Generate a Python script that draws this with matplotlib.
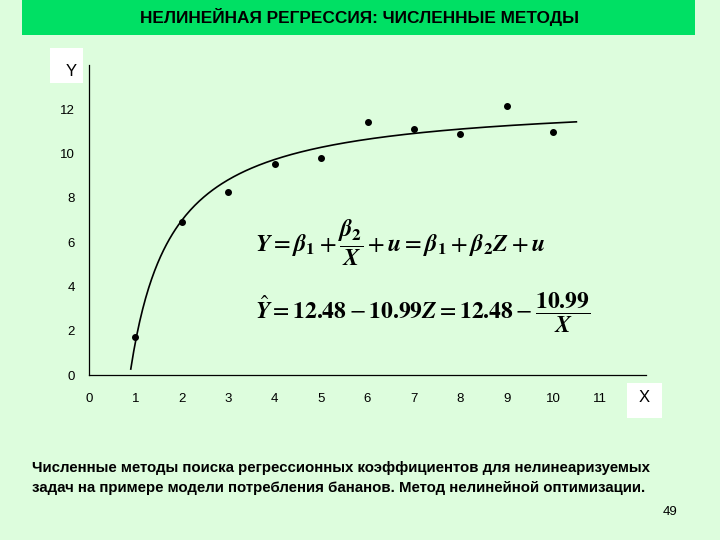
import numpy as np
import matplotlib
matplotlib.use("Agg")
import matplotlib.pyplot as plt
from matplotlib.patches import Rectangle

plt.rcParams["font.family"] = ["Liberation Sans", "DejaVu Sans"]
plt.rcParams["mathtext.fontset"] = "stix"

x_obs = [1, 2, 3, 4, 5, 6, 7, 8, 9, 10]
y_obs = [1.72, 6.89, 8.25, 9.54, 9.82, 11.44, 11.12, 10.89, 12.16, 10.96]

# fitted model Y = b1 - b2 / X
b1, b2 = 12.48, 10.99
x_fit_range = (0.9, 10.5)

x_ticks = list(range(0, 12))
y_ticks = [0, 2, 4, 6, 8, 10, 12]

title = "НЕЛИНЕЙНАЯ РЕГРЕССИЯ: ЧИСЛЕННЫЕ МЕТОДЫ"
caption = ("Численные методы поиска регрессионных коэффициентов для нелинеаризуемых\n"
           "задач на примере модели потребления бананов. Метод нелинейной оптимизации.")
page_no = "49"

bg = "#ddfddd"
bar = "#00e064"

fig = plt.figure(figsize=(7.2, 5.4), dpi=100, facecolor=bg)

# title bar
fig.patches.append(Rectangle((22 / 720, 1 - 35 / 540), (695 - 22) / 720, 35 / 540,
                             transform=fig.transFigure, facecolor=bar,
                             edgecolor="none", zorder=0))
fig.text(359 / 720, 1 - 17 / 540, title, ha="center", va="center",
         fontsize=12.4, fontweight="bold")

ax = fig.add_axes([89 / 720, 1 - 375 / 540, (646 - 89) / 720, (375 - 65) / 540])
ax.set_facecolor(bg)
ax.set_xlim(0, 12)
ax.set_ylim(0, 14)
for s in ("top", "right"):
    ax.spines[s].set_visible(False)
ax.spines["left"].set_linewidth(0.9)
ax.spines["bottom"].set_linewidth(0.9)

ax.set_xticks(x_ticks)
ax.set_xticklabels([str(t) for t in x_ticks], fontsize=9.5)
ax.set_xticks([4, 8], minor=True)
ax.tick_params(axis="x", which="major", length=0, pad=13)
ax.tick_params(axis="x", which="minor", length=4, direction="out", width=0.9)
ax.set_yticks(y_ticks)
ax.set_yticklabels([str(t) for t in y_ticks], fontsize=9.5)
ax.tick_params(axis="y", length=0, pad=10)

xf = np.linspace(*x_fit_range, 300)
ax.plot(xf, b1 - b2 / xf, color="black", lw=1.2, clip_on=False)
ax.plot(x_obs, y_obs, "o", color="black", ms=4, clip_on=False)

# axis name boxes
fig.patches.append(Rectangle((50 / 720, 1 - 83 / 540), 33 / 720, 35 / 540,
                             transform=fig.transFigure, facecolor="white",
                             edgecolor="none"))
fig.text(71 / 720, 1 - 72 / 540, "Y", ha="center", va="center", fontsize=12)
fig.patches.append(Rectangle((627 / 720, 1 - 418 / 540), 35 / 720, 35 / 540,
                             transform=fig.transFigure, facecolor="white",
                             edgecolor="none"))
fig.text(644 / 720, 1 - 398 / 540, "X", ha="center", va="center", fontsize=12)

eq1 = (r"$\mathbfit{Y} = \mathbfit{\beta}_{\mathbf{1}} + \dfrac{\mathbfit{\beta}_{\mathbf{2}}}{\mathbfit{X}}"
       r" + \mathbfit{u} = \mathbfit{\beta}_{\mathbf{1}} + \mathbfit{\beta}_{\mathbf{2}}\mathbfit{Z} + \mathbfit{u}$")
eq2 = (r"$\hat{\mathbfit{Y}} = \mathbf{12.48} - \mathbf{10.99}\mathbfit{Z} = \mathbf{12.48} - "
       r"\dfrac{\mathbf{10.99}}{\mathbfit{X}}$")
fig.text(255 / 720, 1 - 243 / 540, eq1, ha="left", va="center", fontsize=17.5)
fig.text(255 / 720, 1 - 313 / 540, eq2, ha="left", va="center", fontsize=17)

fig.text(32 / 720, 1 - 478 / 540, caption, ha="left", va="center",
         fontsize=10.8, fontweight="bold", linespacing=1.55)
fig.text(677 / 720, 1 - 512 / 540, page_no, ha="right", va="center", fontsize=9.5)

fig.savefig("out.png", dpi=100, facecolor=bg)
